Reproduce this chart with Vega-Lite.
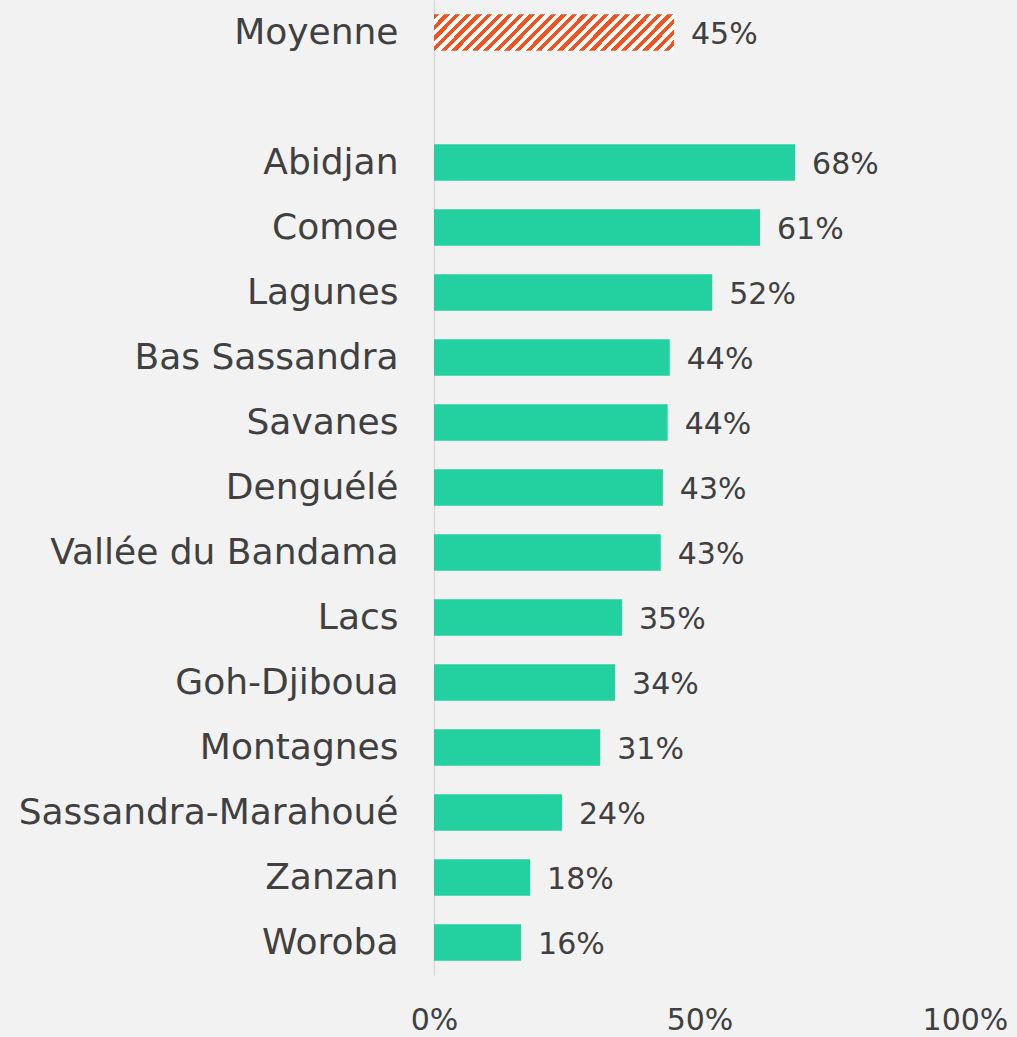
{
  "$schema": "https://vega.github.io/schema/vega-lite/v6.json",
  "autosize": {"type": "none"},
  "width": 531,
  "height": 975,
  "padding": {"left": 434, "top": 0, "right": 52, "bottom": 62},
  "background": "#f2f2f2",
  "config": {
    "view": {"stroke": null},
    "font": "DejaVu Sans",
    "axis": {"labelFont": "DejaVu Sans", "labelColor": "#404040", "labelFontSize": 30}
  },
  "data": {
    "values": [
      {"region": "Moyenne", "value": 0.452, "type": "avg"},
      {"region": "Abidjan", "value": 0.68, "type": "reg"},
      {"region": "Comoe", "value": 0.614, "type": "reg"},
      {"region": "Lagunes", "value": 0.524, "type": "reg"},
      {"region": "Bas Sassandra", "value": 0.444, "type": "reg"},
      {"region": "Savanes", "value": 0.44, "type": "reg"},
      {"region": "Denguélé", "value": 0.431, "type": "reg"},
      {"region": "Vallée du Bandama", "value": 0.427, "type": "reg"},
      {"region": "Lacs", "value": 0.354, "type": "reg"},
      {"region": "Goh-Djiboua", "value": 0.341, "type": "reg"},
      {"region": "Montagnes", "value": 0.313, "type": "reg"},
      {"region": "Sassandra-Marahoué", "value": 0.241, "type": "reg"},
      {"region": "Zanzan", "value": 0.181, "type": "reg"},
      {"region": "Woroba", "value": 0.164, "type": "reg"}
    ]
  },
  "encoding": {
    "y": {
      "field": "region",
      "type": "nominal",
      "sort": null,
      "scale": {
        "domain": ["Moyenne", " ", "Abidjan", "Comoe", "Lagunes", "Bas Sassandra", "Savanes", "Denguélé", "Vallée du Bandama", "Lacs", "Goh-Djiboua", "Montagnes", "Sassandra-Marahoué", "Zanzan", "Woroba"],
        "paddingInner": 0.44,
        "paddingOuter": 0.22
      },
      "axis": {"title": null, "ticks": false, "labelPadding": 36, "labelLimit": 0, "labelFontSize": 36, "domainColor": "#dadada", "domainWidth": 1.5, "grid": false}
    },
    "x": {
      "field": "value",
      "type": "quantitative",
      "scale": {"domain": [0, 1]},
      "axis": {"title": null, "values": [0, 0.5, 1], "format": ".0%", "domain": false, "ticks": false, "grid": false, "labelPadding": 30, "labelFlush": false, "labelOverlap": false}
    }
  },
  "layer": [
    {
      "transform": [{"filter": "datum.type === 'reg'"}],
      "mark": {"type": "bar", "color": "#23d1a0"}
    },
    {
      "transform": [{"filter": "datum.type === 'avg'"}],
      "mark": {
        "type": "bar",
        "color": {
          "gradient": "linear",
          "x1": 0, "y1": 0, "x2": 1.1247, "y2": 0.1687,
          "stops": [
            {"offset": 0, "color": "#f4511e"}, {"offset": 0.0192, "color": "#f4511e"}, {"offset": 0.0192, "color": "#ffffff"}, {"offset": 0.0385, "color": "#ffffff"},
            {"offset": 0.0385, "color": "#f4511e"}, {"offset": 0.0577, "color": "#f4511e"}, {"offset": 0.0577, "color": "#ffffff"}, {"offset": 0.0769, "color": "#ffffff"},
            {"offset": 0.0769, "color": "#f4511e"}, {"offset": 0.0962, "color": "#f4511e"}, {"offset": 0.0962, "color": "#ffffff"}, {"offset": 0.1154, "color": "#ffffff"},
            {"offset": 0.1154, "color": "#f4511e"}, {"offset": 0.1346, "color": "#f4511e"}, {"offset": 0.1346, "color": "#ffffff"}, {"offset": 0.1538, "color": "#ffffff"},
            {"offset": 0.1538, "color": "#f4511e"}, {"offset": 0.1731, "color": "#f4511e"}, {"offset": 0.1731, "color": "#ffffff"}, {"offset": 0.1923, "color": "#ffffff"},
            {"offset": 0.1923, "color": "#f4511e"}, {"offset": 0.2115, "color": "#f4511e"}, {"offset": 0.2115, "color": "#ffffff"}, {"offset": 0.2308, "color": "#ffffff"},
            {"offset": 0.2308, "color": "#f4511e"}, {"offset": 0.25, "color": "#f4511e"}, {"offset": 0.25, "color": "#ffffff"}, {"offset": 0.2692, "color": "#ffffff"},
            {"offset": 0.2692, "color": "#f4511e"}, {"offset": 0.2885, "color": "#f4511e"}, {"offset": 0.2885, "color": "#ffffff"}, {"offset": 0.3077, "color": "#ffffff"},
            {"offset": 0.3077, "color": "#f4511e"}, {"offset": 0.3269, "color": "#f4511e"}, {"offset": 0.3269, "color": "#ffffff"}, {"offset": 0.3462, "color": "#ffffff"},
            {"offset": 0.3462, "color": "#f4511e"}, {"offset": 0.3654, "color": "#f4511e"}, {"offset": 0.3654, "color": "#ffffff"}, {"offset": 0.3846, "color": "#ffffff"},
            {"offset": 0.3846, "color": "#f4511e"}, {"offset": 0.4038, "color": "#f4511e"}, {"offset": 0.4038, "color": "#ffffff"}, {"offset": 0.4231, "color": "#ffffff"},
            {"offset": 0.4231, "color": "#f4511e"}, {"offset": 0.4423, "color": "#f4511e"}, {"offset": 0.4423, "color": "#ffffff"}, {"offset": 0.4615, "color": "#ffffff"},
            {"offset": 0.4615, "color": "#f4511e"}, {"offset": 0.4808, "color": "#f4511e"}, {"offset": 0.4808, "color": "#ffffff"}, {"offset": 0.5, "color": "#ffffff"},
            {"offset": 0.5, "color": "#f4511e"}, {"offset": 0.5192, "color": "#f4511e"}, {"offset": 0.5192, "color": "#ffffff"}, {"offset": 0.5385, "color": "#ffffff"},
            {"offset": 0.5385, "color": "#f4511e"}, {"offset": 0.5577, "color": "#f4511e"}, {"offset": 0.5577, "color": "#ffffff"}, {"offset": 0.5769, "color": "#ffffff"},
            {"offset": 0.5769, "color": "#f4511e"}, {"offset": 0.5962, "color": "#f4511e"}, {"offset": 0.5962, "color": "#ffffff"}, {"offset": 0.6154, "color": "#ffffff"},
            {"offset": 0.6154, "color": "#f4511e"}, {"offset": 0.6346, "color": "#f4511e"}, {"offset": 0.6346, "color": "#ffffff"}, {"offset": 0.6538, "color": "#ffffff"},
            {"offset": 0.6538, "color": "#f4511e"}, {"offset": 0.6731, "color": "#f4511e"}, {"offset": 0.6731, "color": "#ffffff"}, {"offset": 0.6923, "color": "#ffffff"},
            {"offset": 0.6923, "color": "#f4511e"}, {"offset": 0.7115, "color": "#f4511e"}, {"offset": 0.7115, "color": "#ffffff"}, {"offset": 0.7308, "color": "#ffffff"},
            {"offset": 0.7308, "color": "#f4511e"}, {"offset": 0.75, "color": "#f4511e"}, {"offset": 0.75, "color": "#ffffff"}, {"offset": 0.7692, "color": "#ffffff"},
            {"offset": 0.7692, "color": "#f4511e"}, {"offset": 0.7885, "color": "#f4511e"}, {"offset": 0.7885, "color": "#ffffff"}, {"offset": 0.8077, "color": "#ffffff"},
            {"offset": 0.8077, "color": "#f4511e"}, {"offset": 0.8269, "color": "#f4511e"}, {"offset": 0.8269, "color": "#ffffff"}, {"offset": 0.8462, "color": "#ffffff"},
            {"offset": 0.8462, "color": "#f4511e"}, {"offset": 0.8654, "color": "#f4511e"}, {"offset": 0.8654, "color": "#ffffff"}, {"offset": 0.8846, "color": "#ffffff"},
            {"offset": 0.8846, "color": "#f4511e"}, {"offset": 0.9038, "color": "#f4511e"}, {"offset": 0.9038, "color": "#ffffff"}, {"offset": 0.9231, "color": "#ffffff"},
            {"offset": 0.9231, "color": "#f4511e"}, {"offset": 0.9423, "color": "#f4511e"}, {"offset": 0.9423, "color": "#ffffff"}, {"offset": 0.9615, "color": "#ffffff"},
            {"offset": 0.9615, "color": "#f4511e"}, {"offset": 0.9808, "color": "#f4511e"}, {"offset": 0.9808, "color": "#ffffff"}, {"offset": 1, "color": "#ffffff"}
          ]
        }
      }
    },
    {
      "mark": {"type": "text", "align": "left", "baseline": "middle", "dx": 17, "dy": 2, "fontSize": 30, "color": "#404040", "font": "DejaVu Sans"},
      "encoding": {"text": {"field": "value", "type": "quantitative", "format": ".0%"}}
    }
  ]
}
